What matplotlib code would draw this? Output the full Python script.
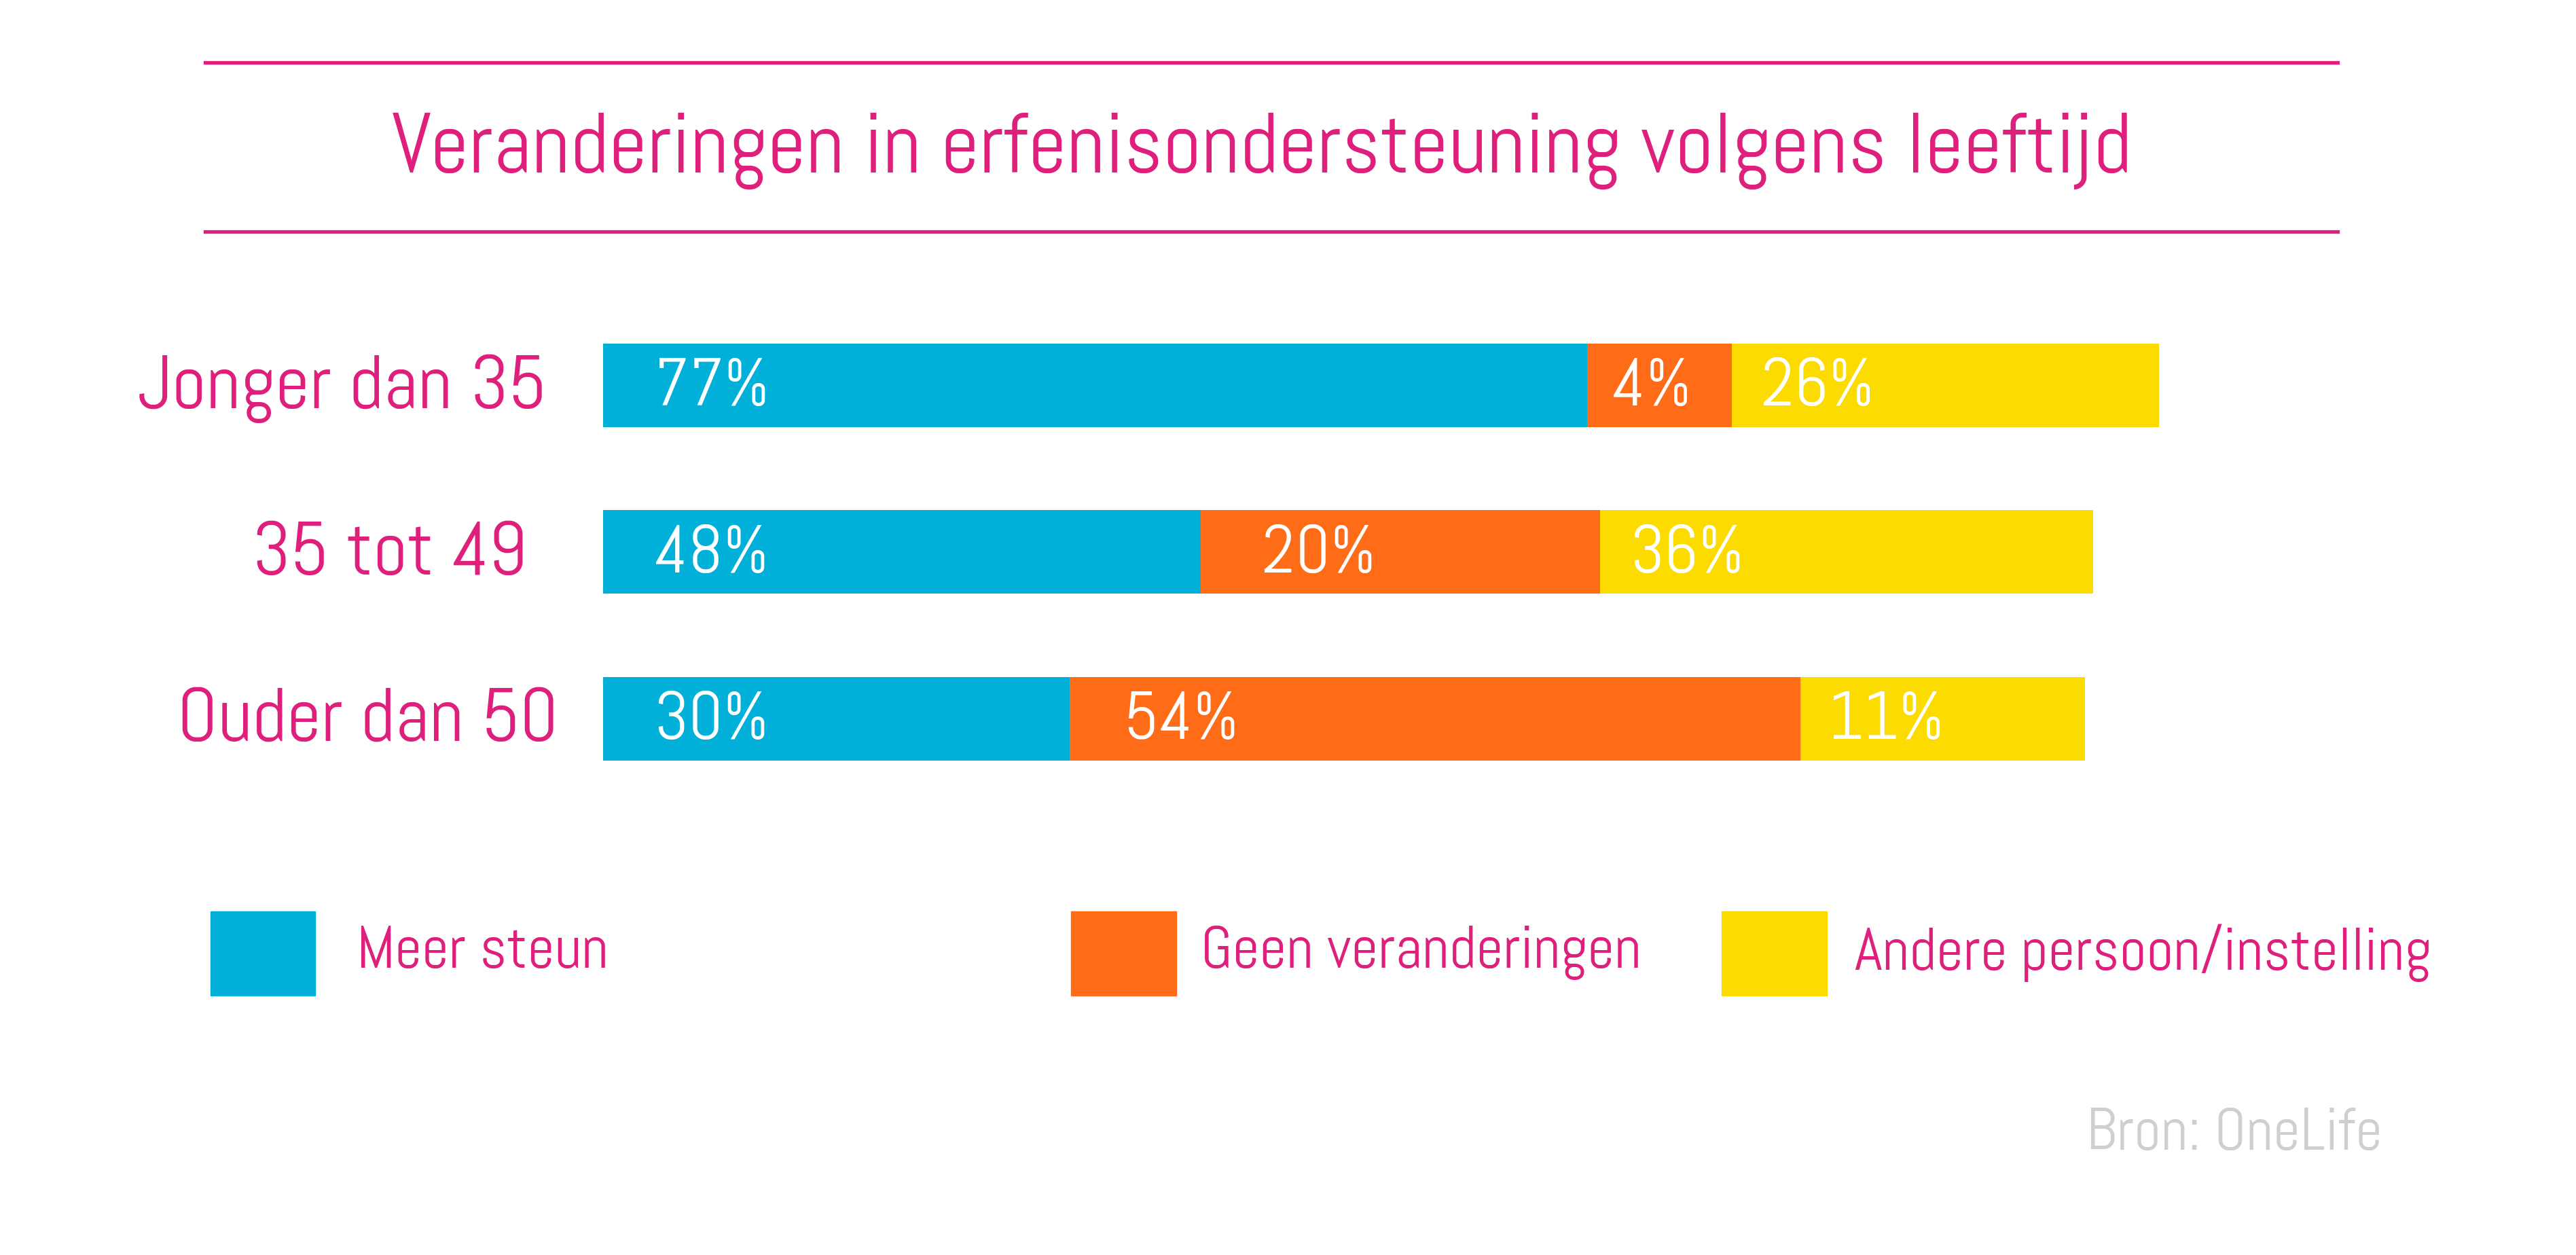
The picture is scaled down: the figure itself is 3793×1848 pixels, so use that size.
import matplotlib
matplotlib.use("Agg")
import matplotlib.pyplot as plt
from matplotlib.patches import Rectangle

# data
groups = ["Jonger dan 35", "35 tot 49", "Ouder dan 50"]
series = ["Meer steun", "Geen veranderingen", "Andere persoon/instelling"]
# labels printed on the bars
meer_pct = [77, 48, 30]
geen_pct = [4, 20, 54]
andere_pct = [26, 36, 11]
# bar segment lengths as drawn in the picture (not proportional to the labels)
meer_len = [59.9, 36.4, 28.4]
geen_len = [8.8, 24.3, 44.5]
andere_len = [26.0, 30.0, 17.3]
source = "Bron: OneLife"
title = "Veranderingen in erfenisondersteuning volgens leeftijd"

pink = "#de1f7b"
colors = ["#00b0d8", "#ff6c17", "#fcdc00"]
font = "Abel"

W, H = 1568.0, 764.0  # layout grid (reference as displayed)
def fx(x):
    return x / W
def fy(y):
    return 1 - y / H

fig = plt.figure(figsize=(37.93, 18.48), dpi=100)
fig.patch.set_facecolor("white")

# title with rules
for yl in [38, 141]:
    fig.add_artist(plt.Line2D([fx(125), fx(1423)], [fy(yl), fy(yl)], color=pink, lw=3.8))
fig.text(fx(768), fy(105), title, color=pink, fontsize=90, family=font,
         ha="center", va="baseline")

# bars
ax = fig.add_axes([fx(367), fy(539), fx(1200), fy(133) - fy(539)])
ax.set_xlim(0, 120)
ax.set_ylim(3, -1)
ax.axis("off")

rows = range(len(groups))
lens = [meer_len, geen_len, andere_len]
pcts = [meer_pct, geen_pct, andere_pct]
# label offset from segment start, per series/row
pads = [[3.1, 3.1, 3.1], [1.5, 3.7, 3.3], [1.8, 1.8, 1.7]]
left = [0.0] * len(groups)
for s in range(3):
    ax.barh(list(rows), lens[s], left=left, height=0.5, color=colors[s], edgecolor="none")
    for r in rows:
        ax.text(left[r] + pads[s][r], r + 0.02, f"{pcts[s][r]}%", color="white",
                fontsize=72, family=font, ha="left", va="center")
    left = [left[r] + lens[s][r] for r in rows]

# group labels
label_right = [-3.4, -4.6, -2.7]
for r in rows:
    ax.text(label_right[r], r + 0.02, groups[r], color=pink, fontsize=80.5, family=font,
            ha="right", va="center", clip_on=False)

# legend
leg_x = [128, 652, 1048]
leg_pad = [89, 79, 81]
for i, name in enumerate(series):
    fig.add_artist(Rectangle((fx(leg_x[i]), fy(606)), fx(64), fy(555) - fy(606),
                             color=colors[i], transform=fig.transFigure))
    fig.text(fx(leg_x[i] + leg_pad[i]), fy(580), name, color=pink, fontsize=63, family=font,
             ha="left", va="center")

fig.text(fx(1450), fy(691), source, color="#cfcfcf", fontsize=63, family=font,
         ha="right", va="center")

fig.savefig("out.png", dpi=100, facecolor="white")
